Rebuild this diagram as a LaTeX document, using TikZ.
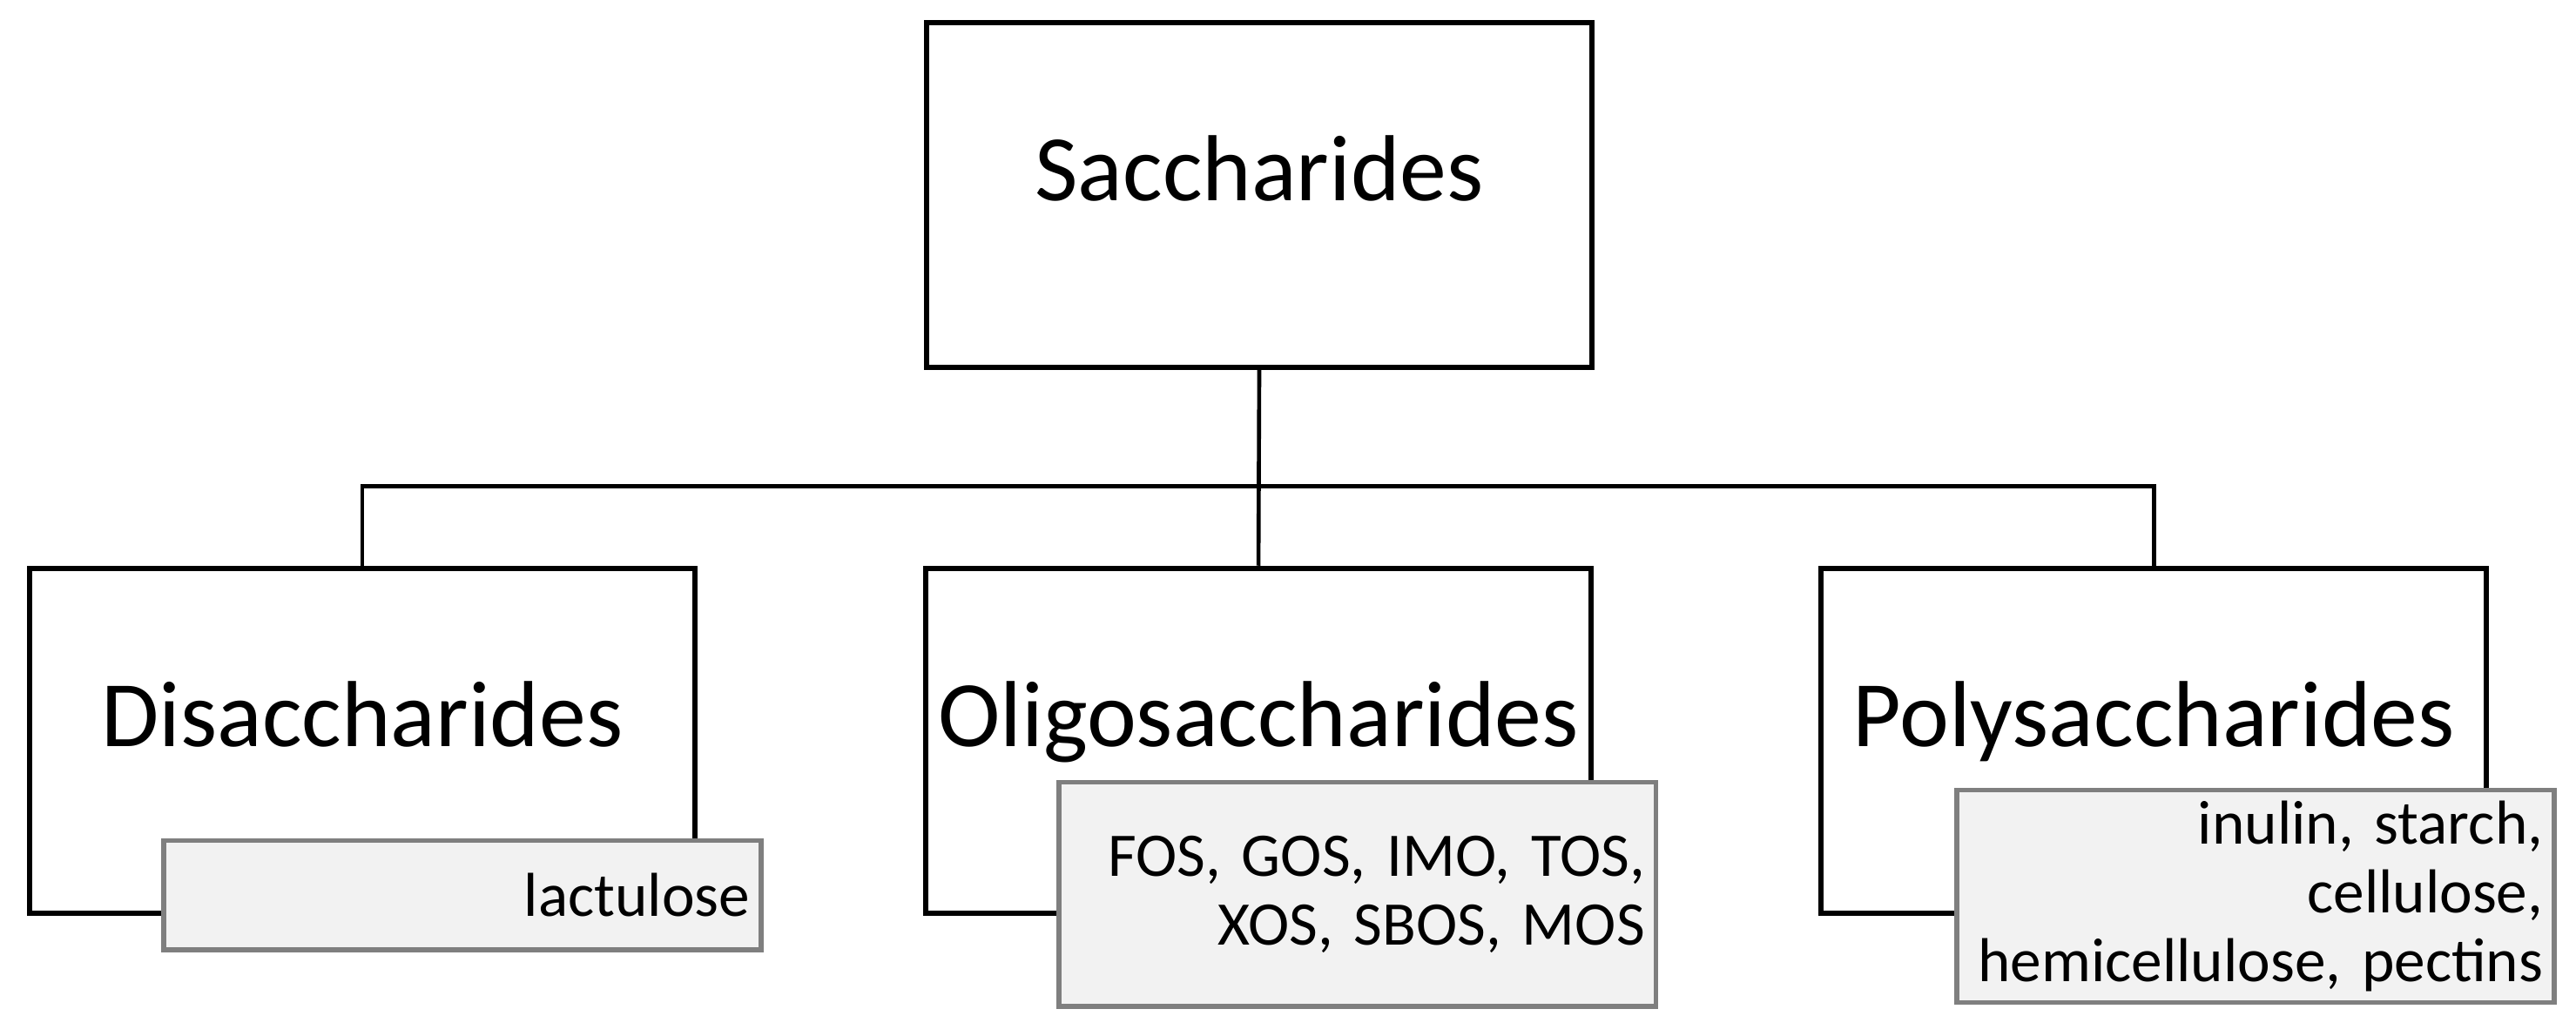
\documentclass[tikz,border=0pt]{standalone}
\usepackage{fontspec}
\setmainfont{Carlito}

\definecolor{listgray}{HTML}{7F7F7F}
\definecolor{listfill}{HTML}{F2F2F2}

\tikzset{
	catbox/.style={draw=black,line width=1.8pt,fill=white,minimum width=8.1cm,inner sep=0pt,
		text height=2.17cm,text depth=2.03cm,font=\fontsize{32.5}{39}\selectfont},
	listbox/.style={draw=listgray,fill=listfill,line width=1.7pt,text width=7.0cm,align=right,
		inner xsep=0.135cm,inner ysep=0pt,font=\fontsize{21.5}{23.7}\selectfont},
	link/.style={draw=black,line width=1.4pt}
}

\begin{document}
\begin{tikzpicture}
			\useasboundingbox (0,0) rectangle (31.36,12.606);

			% categories
			\node[catbox] (sacch) at (15.33,10.234) {Saccharides};
			\node[catbox] (di) at (4.41,3.586) {Disaccharides};
			\node[catbox] (oligo) at (15.32,3.586) {Oligosaccharides};
			\node[catbox] (poly) at (26.22,3.586) {Polysaccharides};

			% tree
			\coordinate (split) at (15.33,6.688);
			\draw[link] (sacch.south) -- (oligo.north);
			\draw[link] (di.north) |- (split) -| (poly.north);

			% examples
			\node[listbox,minimum height=1.33cm] (dilist) at (5.63,1.704) {
				lactulose
			};
			\node[listbox,minimum height=2.73cm] (oligolist) at (16.525,1.716) {
				FOS, GOS, IMO, TOS,\\
				XOS, SBOS, MOS
			};
			\node[listbox,minimum height=2.59cm] (polylist) at (27.46,1.692) {
				inulin, starch,\\
				cellulose,\\
				hemicellulose, pectins
			};
		\end{tikzpicture}
\end{document}
